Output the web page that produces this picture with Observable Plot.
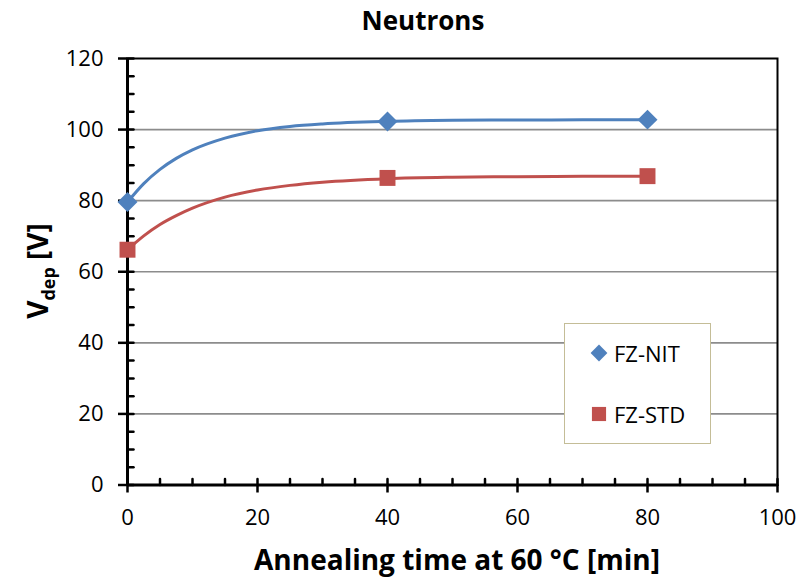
<!DOCTYPE html>
<html>
<head>
<meta charset="utf-8">
<script src="https://cdn.jsdelivr.net/npm/d3@7"></script>
<script src="https://cdn.jsdelivr.net/npm/@observablehq/plot@0.6"></script>
<style>
  html, body { margin: 0; padding: 0; background: #fff; }
  #wrap { position: relative; width: 806px; height: 581px; font-family: "Open Sans", Lato, sans-serif; color: #000; }
  .abs { position: absolute; white-space: nowrap; line-height: 1; }
  #title { left: 0; width: 846px; top: 7px; text-align: center; font-weight: bold; font-size: 26px; }
  #xlabel { left: 132px; width: 650px; top: 545px; text-align: center; font-weight: bold; font-size: 28px; }
  #ylabel { left: 40px; top: 271px; transform: translate(-50%, -50%) rotate(-90deg); font-weight: bold; font-size: 28px; }
  #ylabel sub { font-size: 18px; vertical-align: -7px; }
  #legend { left: 564px; top: 323px; width: 145px; height: 119px; border: 1.5px solid #c4bd97; background: #fff; }
  .item { position: absolute; left: 23px; font-size: 22px; display: flex; align-items: center; line-height: 1; }
  .item svg { margin-right: 4px; }
</style>
</head>
<body>
<div id="wrap">
  <div id="chart"></div>
  <div id="title" class="abs">Neutrons</div>
  <div id="xlabel" class="abs">Annealing time at 60 °C [min]</div>
  <div id="ylabel" class="abs">V<sub>dep</sub> [V]</div>
  <div id="legend" class="abs"></div>
</div>
<script>
// ---- data ----
const times = [0, 40, 80];
const nitValues = [79.6, 102.3, 102.8];
const stdValues = [66.2, 86.4, 86.9];

// fitted curves as drawn in the reference
const curveTimes = [0, 2.5, 5, 7.5, 10, 15, 20, 25, 30, 40, 50, 60, 70, 80];
const nitCurve   = [79.6, 84.8, 88.8, 91.9, 94.3, 97.6, 99.7, 100.9, 101.6, 102.3, 102.6, 102.7, 102.75, 102.8];
const stdCurve   = [66.2, 70.1, 73.3, 75.8, 77.9, 81.0, 83.0, 84.3, 85.2, 86.2, 86.6, 86.75, 86.85, 86.9];

const seriesNames = ["FZ-NIT", "FZ-STD"];
const seriesColors = ["#4f81bd", "#c0504d"];
const seriesSymbols = ["diamond2", "square"];

const xMajor = [0, 20, 40, 60, 80, 100];
const xMinor = d3.range(0, 101, 5);
const yMajor = [0, 20, 40, 60, 80, 100, 120];
const yMinor = d3.range(0, 121, 5);
const yGrid = [20, 40, 60, 80, 100];

// ---- build tables ----
const points = [];
times.forEach((t, i) => {
  points.push({t, v: nitValues[i], s: seriesNames[0]});
  points.push({t, v: stdValues[i], s: seriesNames[1]});
});
const curves = [];
curveTimes.forEach((t, i) => {
  curves.push({t, v: nitCurve[i], s: seriesNames[0]});
  curves.push({t, v: stdCurve[i], s: seriesNames[1]});
});

const tickShape = { draw(ctx, l) { ctx.moveTo(0, 0); ctx.lineTo(0, -l); } };

const chart = Plot.plot({
  width: 806,
  height: 581,
  marginLeft: 127,
  marginRight: 29,
  marginTop: 58,
  marginBottom: 96.5,
  style: { fontFamily: "'Open Sans', Lato, sans-serif", fontSize: "22px", color: "#000", background: "#fff" },
  x: { domain: [0, 100] },
  y: { domain: [0, 120] },
  color: { domain: seriesNames, range: seriesColors },
  symbol: { domain: seriesNames, range: seriesSymbols },
  marks: [
    Plot.ruleY(yGrid, { stroke: "#8c8c8c", strokeWidth: 1.6 }),
    Plot.frame({ stroke: "#000", strokeWidth: 2 }),
    // inward ticks
    Plot.vector(yMinor, { x: 0, y: d => d, rotate: 90, length: 6, anchor: "start", shape: tickShape, stroke: "#000", strokeWidth: 2.5 }),
    Plot.vector(xMinor, { x: d => d, y: 0, rotate: 0, length: 6, anchor: "start", shape: tickShape, stroke: "#000", strokeWidth: 2.5 }),
    // outward major ticks + labels
    Plot.axisY({ ticks: yMajor, tickSize: 9, tickPadding: 15, strokeWidth: 2.5, fontSize: 22, tickFormat: d3.format("d"), label: null }),
    Plot.axisX({ ticks: xMajor, tickSize: 8, tickPadding: 16, strokeWidth: 2.5, fontSize: 22, tickFormat: d3.format("d"), label: null }),
    Plot.ruleX([0], { stroke: "#000", strokeWidth: 3 }),
    Plot.ruleY([0], { stroke: "#000", strokeWidth: 3 }),
    Plot.line(curves, { x: "t", y: "v", z: "s", stroke: "s", strokeWidth: 3, curve: "monotone-x" }),
    Plot.dot(points, { x: "t", y: "v", fill: "s", symbol: "s", r: 9, stroke: null })
  ]
});
document.getElementById("chart").appendChild(chart);

// legend
const legend = document.getElementById("legend");
seriesNames.forEach((name, i) => {
  const item = document.createElement("div");
  item.className = "item";
  item.style.top = (i === 0 ? 18 : 79) + "px";
  const sym = d3.create("svg").attr("width", 22).attr("height", 22);
  sym.append("path")
    .attr("transform", "translate(11,11)")
    .attr("d", d3.symbol(i === 0 ? d3.symbolDiamond2 : d3.symbolSquare, i === 0 ? 180 : 200)())
    .attr("fill", seriesColors[i]);
  item.appendChild(sym.node());
  const label = document.createElement("span");
  label.textContent = name;
  item.appendChild(label);
  legend.appendChild(item);
});
</script>
</body>
</html>
